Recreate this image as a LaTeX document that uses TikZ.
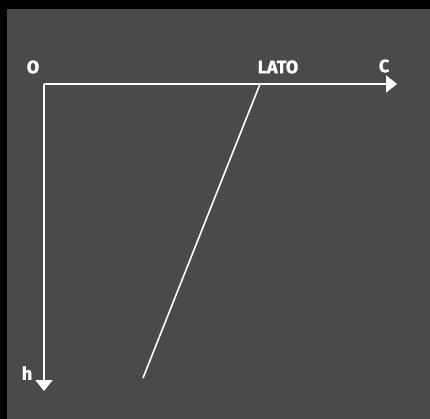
\documentclass[tikz,border=0pt]{standalone}
\usepackage{fontspec}
\setmainfont{Fira Sans}[BoldFeatures={FakeBold=1.2}]
\usetikzlibrary{arrows.meta}
\definecolor{frame}{HTML}{000000}
\definecolor{slate}{HTML}{4A4A48}
\begin{document}
\begin{tikzpicture}[
  x=1pt,y=-1pt,
  axis/.style={draw=white,line width=2pt,-{Triangle[length=11pt,width=17pt]}},
  edge/.style={draw=white,line width=1.6pt},
  lbl/.style={text=white,font=\fontsize{18}{18}\selectfont\bfseries,inner sep=0pt}
]
\fill[frame] (0,0) rectangle (430,419);
\fill[slate] (7,9) rectangle (430,419);
\useasboundingbox (0,0) rectangle (430,419);

\coordinate (o) at (44,84);
\coordinate (cx) at (397,84);
\coordinate (hy) at (44,391);
\coordinate (top) at (260,84);
\coordinate (bot) at (143,378);

\node[lbl] (lo) at (33,67) {O};
\node[lbl] (llato) at (278,67) {LATO};
\node[lbl] (lc) at (384,66) {C};
\node[lbl] (lh) at (27,373) {h};

\draw[axis] (o) -- (cx);
\draw[axis] (o) -- (hy);
\draw[edge] (top) -- (bot);
\end{tikzpicture}
\end{document}
